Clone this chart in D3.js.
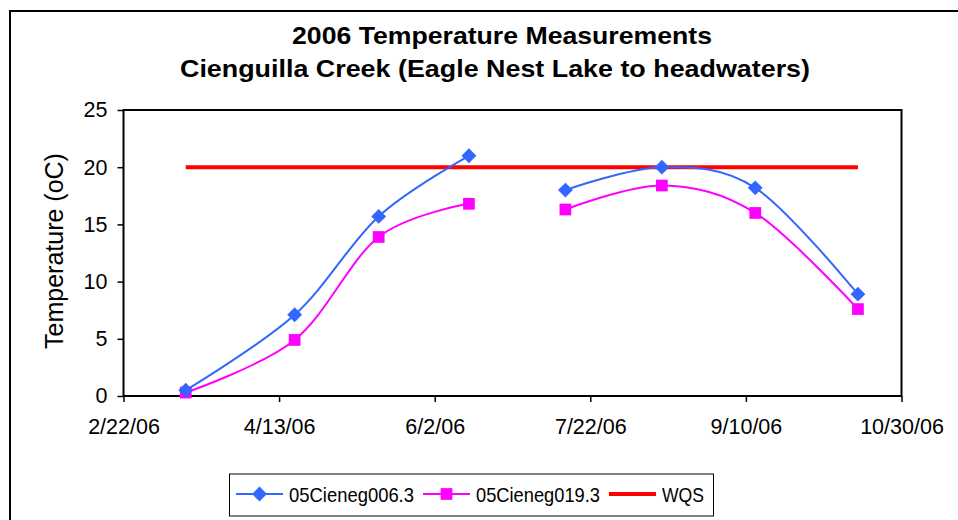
<!DOCTYPE html>
<html lang="en">
<head>
    <meta charset="UTF-8">
    <title>2006 Temperature Measurements</title>
    <script src="https://d3js.org/d3.v7.min.js"></script>
    <style>
        body { margin: 0; background: #fff; }
        text { font-family: 'Liberation Sans', Arial, sans-serif; fill: #000; }
        .axis text { font-size: 21.5px; }
        .axis path, .axis line { stroke: #000; }
        text.title { font-weight: bold; font-size: 24px; }
        text.legend { font-size: 21px; }
    </style>
</head>
<body>
<svg height="520" width="958"></svg>
<script>
    const dates = ["3/14/06", "4/18/06", "5/15/06", "6/13/06", "6/28/06", "7/14/06", "8/14/06", "9/13/06", "10/16/06"];
    const site006 = [0.5, 7.1, 15.7, 21.0, null, 18.0, 20.0, 18.2, 8.9];
    const site019 = [0.3, 4.9, 13.9, 16.8, null, 16.3, 18.4, 16.0, 7.6];
    const wqsDates = ["3/14/06", "10/16/06"];
    const wqsValues = [20, 20];
    const xTickLabels = ["2/22/06", "4/13/06", "6/2/06", "7/22/06", "9/10/06", "10/30/06"];
    const yTicks = [0, 5, 10, 15, 20, 25];

    const parse = d3.utcParse("%m/%d/%y");
    const fmt = d3.utcFormat("%-m/%-d/%y");
    const plotL = 123.5, plotR = 901.5, plotT = 110, plotB = 396;

    const svg = d3.select("svg");
    const x = d3.scaleUtc()
        .domain([parse(xTickLabels[0]), parse(xTickLabels[xTickLabels.length - 1])])
        .range([plotL, plotR]);
    const y = d3.scaleLinear().domain([0, 25]).range([plotB, plotT]);

    // outer chart frame
    svg.append("rect").attr("x", 10).attr("y", 11).attr("width", 970).attr("height", 530)
        .attr("fill", "none").attr("stroke", "#000").attr("stroke-width", 2);

    svg.append("text").attr("class", "title").attr("x", 292).attr("y", 44)
        .attr("textLength", 420).attr("lengthAdjust", "spacingAndGlyphs")
        .text("2006 Temperature Measurements");
    svg.append("text").attr("class", "title").attr("x", 180).attr("y", 77)
        .attr("textLength", 630).attr("lengthAdjust", "spacingAndGlyphs")
        .text("Cienguilla Creek (Eagle Nest Lake to headwaters)");

    svg.append("g").attr("class", "axis")
        .attr("transform", `translate(${plotL},0)`)
        .call(d3.axisLeft(y).tickValues(yTicks).tickSize(6).tickPadding(10))
        .call(g => g.select(".domain").remove())
        .selectAll("line").attr("stroke-width", 1.5);
    svg.append("g").attr("class", "axis")
        .attr("transform", `translate(0,${plotB})`)
        .call(d3.axisBottom(x).tickValues(xTickLabels.map(parse)).tickFormat(fmt).tickSize(6).tickPadding(17))
        .call(g => g.select(".domain").remove())
        .selectAll("line").attr("stroke-width", 1.5);

    svg.append("rect").attr("x", plotL).attr("y", plotT)
        .attr("width", plotR - plotL).attr("height", plotB - plotT)
        .attr("fill", "none").attr("stroke", "#000").attr("stroke-width", 2);

    svg.append("text").attr("transform", "translate(63,251) rotate(-90)")
        .attr("text-anchor", "middle").style("font-size", "25px")
        .text("Temperature (oC)");

    const line = d3.line()
        .defined(d => d.v !== null)
        .x(d => x(d.t)).y(d => y(d.v))
        .curve(d3.curveCardinal.tension(0));

    const wqs = wqsDates.map((t, i) => ({t: parse(t), v: wqsValues[i]}));
    svg.append("path").datum(wqs).attr("d", line)
        .attr("fill", "none").attr("stroke", "#ff0000").attr("stroke-width", 4);

    const series = [
        {name: "05Cieneg006.3", values: site006, color: "#3366ff", shape: d3.symbolDiamond2, size: 140},
        {name: "05Cieneg019.3", values: site019, color: "#ff00ff", shape: d3.symbolSquare2, size: 175}
    ];

    series.slice().reverse().forEach(s => {
        const pts = dates.map((t, i) => ({t: parse(t), v: s.values[i]}));
        svg.append("path").datum(pts).attr("d", line)
            .attr("fill", "none").attr("stroke", s.color).attr("stroke-width", 2);
    });
    series.slice().reverse().forEach(s => {
        const pts = dates.map((t, i) => ({t: parse(t), v: s.values[i]})).filter(d => d.v !== null);
        svg.append("g").selectAll("path").data(pts).enter().append("path")
            .attr("transform", d => `translate(${x(d.t)},${y(d.v)})`)
            .attr("d", d3.symbol().type(s.shape).size(s.size))
            .attr("fill", s.color);
    });

    // legend
    const lg = svg.append("g");
    lg.append("rect").attr("x", 229.5).attr("y", 474).attr("width", 484).attr("height", 42)
        .attr("fill", "#fff").attr("stroke", "#000").attr("stroke-width", 1);
    const legendItems = [
        {name: series[0].name, color: series[0].color, shape: series[0].shape, size: series[0].size, x0: 236, width: 2, len: 125},
        {name: series[1].name, color: series[1].color, shape: series[1].shape, size: series[1].size, x0: 423, width: 2, len: 124},
        {name: "WQS", color: "#ff0000", shape: null, x0: 609, width: 4, len: 42}
    ];
    legendItems.forEach(d => {
        lg.append("line").attr("x1", d.x0).attr("x2", d.x0 + 47).attr("y1", 494).attr("y2", 494)
            .attr("stroke", d.color).attr("stroke-width", d.width);
        if (d.shape) {
            lg.append("path").attr("transform", `translate(${d.x0 + 23.5},494)`)
                .attr("d", d3.symbol().type(d.shape).size(d.size))
                .attr("fill", d.color);
        }
        lg.append("text").attr("class", "legend").attr("x", d.x0 + 53).attr("y", 501.5)
            .attr("textLength", d.len).attr("lengthAdjust", "spacingAndGlyphs").text(d.name);
    });
</script>
</body>
</html>
